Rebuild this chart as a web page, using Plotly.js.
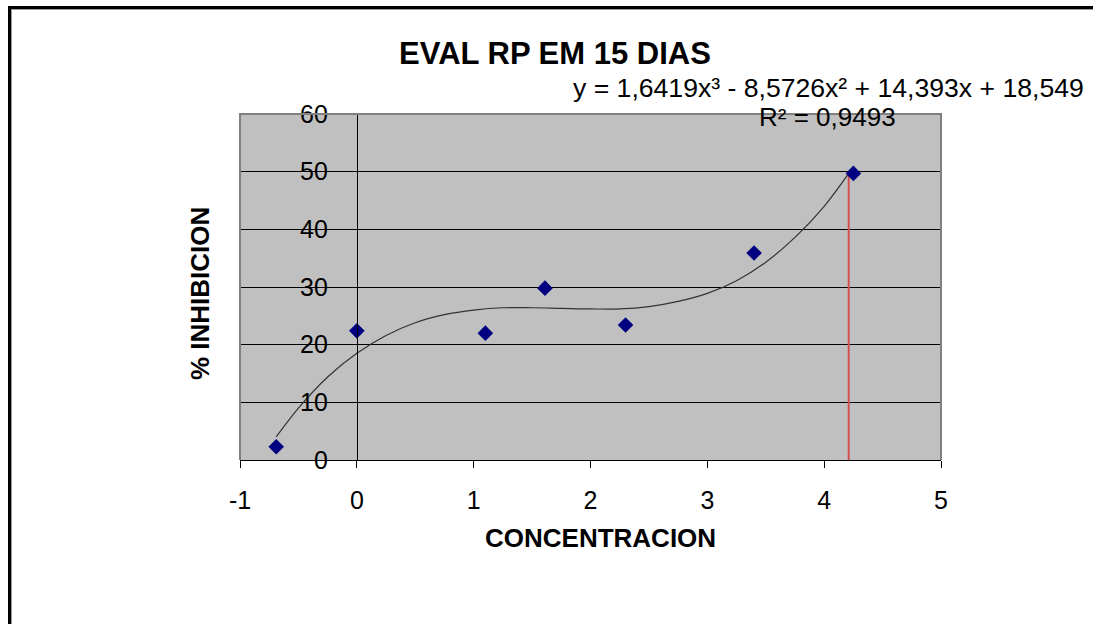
<!DOCTYPE html>
<html>
<head>
<meta charset="utf-8">
<script src="https://cdn.plot.ly/plotly-3.0.1.min.js"></script>
<style>
  html, body { margin: 0; padding: 0; background: #fff; }
  #wrap { position: relative; width: 1093px; height: 624px; overflow: hidden; }
  #chart { width: 1093px; height: 624px; }
  #frame1 { position: absolute; left: 8px; top: 6px; width: 2000px; height: 2000px;
            border-left: 3px solid #000; border-top: 3px solid #000; pointer-events: none; }
  #frame2 { position: absolute; left: 11px; top: 9px; width: 2000px; height: 2000px;
            border-left: 1px solid #9a9a9a; border-top: 1px solid #9a9a9a; pointer-events: none; }
</style>
</head>
<body>
<div id="wrap">
  <div id="chart"></div>
  <div id="frame1"></div>
  <div id="frame2"></div>
</div>
<script>
// Observed data points (concentration as log values, % inhibition)
const concentration = [-0.69, 0.0, 1.10, 1.61, 2.30, 3.40, 4.25];
const inhibition    = [2.3, 22.4, 22.0, 29.8, 23.4, 35.9, 49.7];

// Trend curve
const trendX = [-0.69, -0.5, -0.25, 0.0, 0.25, 0.5, 0.75, 1.0, 1.25, 1.5, 1.75, 2.0, 2.25, 2.5, 2.75, 3.0, 3.25, 3.5, 3.75, 4.0, 4.21];
const trendY = [4.0, 9.0, 14.4, 18.5, 21.6, 23.8, 25.2, 26.0, 26.4, 26.4, 26.3, 26.2, 26.2, 26.6, 27.5, 28.9, 31.1, 34.3, 38.6, 44.0, 49.7];

// Red vertical marker line
const markerX = [4.21, 4.21];
const markerY = [0, 49.7];

const xTicks = [-1, 0, 1, 2, 3, 4, 5];
const yTicks = [0, 10, 20, 30, 40, 50, 60];

const FONT = 'Arial, "Liberation Sans", sans-serif';

const traces = [
  {
    x: trendX, y: trendY, type: 'scatter', mode: 'lines',
    line: { color: '#333333', width: 1.2, shape: 'spline' },
    hoverinfo: 'skip', showlegend: false
  },
  {
    x: markerX, y: markerY, type: 'scatter', mode: 'lines',
    line: { color: '#d05050', width: 2 },
    hoverinfo: 'skip', showlegend: false
  },
  {
    x: concentration, y: inhibition, type: 'scatter', mode: 'markers',
    marker: { symbol: 'diamond', size: 12, color: '#000080' },
    showlegend: false
  }
];

const layout = {
  width: 1093, height: 624,
  margin: { l: 240, r: 152, t: 114, b: 164 },
  paper_bgcolor: '#ffffff',
  plot_bgcolor: '#c0c0c0',
  font: { family: FONT, color: '#000' },
  title: {
    text: '<b>EVAL RP EM 15 DIAS</b>',
    font: { family: FONT, size: 31, color: '#000' },
    xref: 'container', yref: 'container',
    x: 555/1093, xanchor: 'center', y: 1 - 53/624, yanchor: 'middle'
  },
  xaxis: {
    range: [-1, 5], tickvals: xTicks, ticktext: xTicks.map(String),
    showgrid: false, zeroline: false,
    showline: true, linecolor: '#000', linewidth: 1,
    ticks: 'outside', ticklen: 7, tickcolor: '#000', tickwidth: 1,
    ticklabelstandoff: 11,
    tickfont: { family: FONT, size: 25, color: '#000' },
    title: { text: '' }
  },
  yaxis: {
    range: [0, 60], tickvals: yTicks, ticktext: yTicks.map(String),
    anchor: 'free', position: 1/6,
    showgrid: true, gridcolor: '#000', gridwidth: 1,
    zeroline: false,
    showline: true, linecolor: '#000', linewidth: 1,
    ticks: 'outside', ticklen: 6, tickcolor: '#000', tickwidth: 1,
    ticklabelstandoff: 18,
    tickfont: { family: FONT, size: 25, color: '#000' },
    title: { text: '' }
  },
  shapes: [
    {
      type: 'path', xref: 'paper', yref: 'paper',
      path: 'M 0 0 L 0 1 L 1 1 L 1 0',
      line: { color: '#808080', width: 2 }, layer: 'above'
    }
  ],
  annotations: [
    {
      text: '<b>CONCENTRACION</b>',
      xref: 'paper', yref: 'paper', x: (600 - 240)/701, y: -(538 - 460)/346,
      xanchor: 'center', yanchor: 'middle', showarrow: false,
      font: { family: FONT, size: 26, color: '#000' }
    },
    {
      text: '<b>% INHIBICION</b>', textangle: -90,
      xref: 'paper', yref: 'paper', x: -(240 - 200)/701, y: (460 - 294)/346,
      xanchor: 'center', yanchor: 'middle', showarrow: false,
      font: { family: FONT, size: 26, color: '#000' }
    },
    {
      text: 'y = 1,6419x³ - 8,5726x² + 14,393x + 18,549',
      xref: 'paper', yref: 'paper', x: (1086 - 240)/701, y: (460 - 88)/346,
      xanchor: 'right', yanchor: 'middle', showarrow: false,
      font: { family: FONT, size: 26.6, color: '#000' }
    },
    {
      text: 'R² = 0,9493',
      xref: 'paper', yref: 'paper', x: (827 - 240)/701, y: (460 - 117)/346,
      xanchor: 'center', yanchor: 'middle', showarrow: false,
      font: { family: FONT, size: 26, color: '#000' }
    }
  ]
};

Plotly.newPlot('chart', traces, layout, { displayModeBar: false, staticPlot: true });
</script>
</body>
</html>
